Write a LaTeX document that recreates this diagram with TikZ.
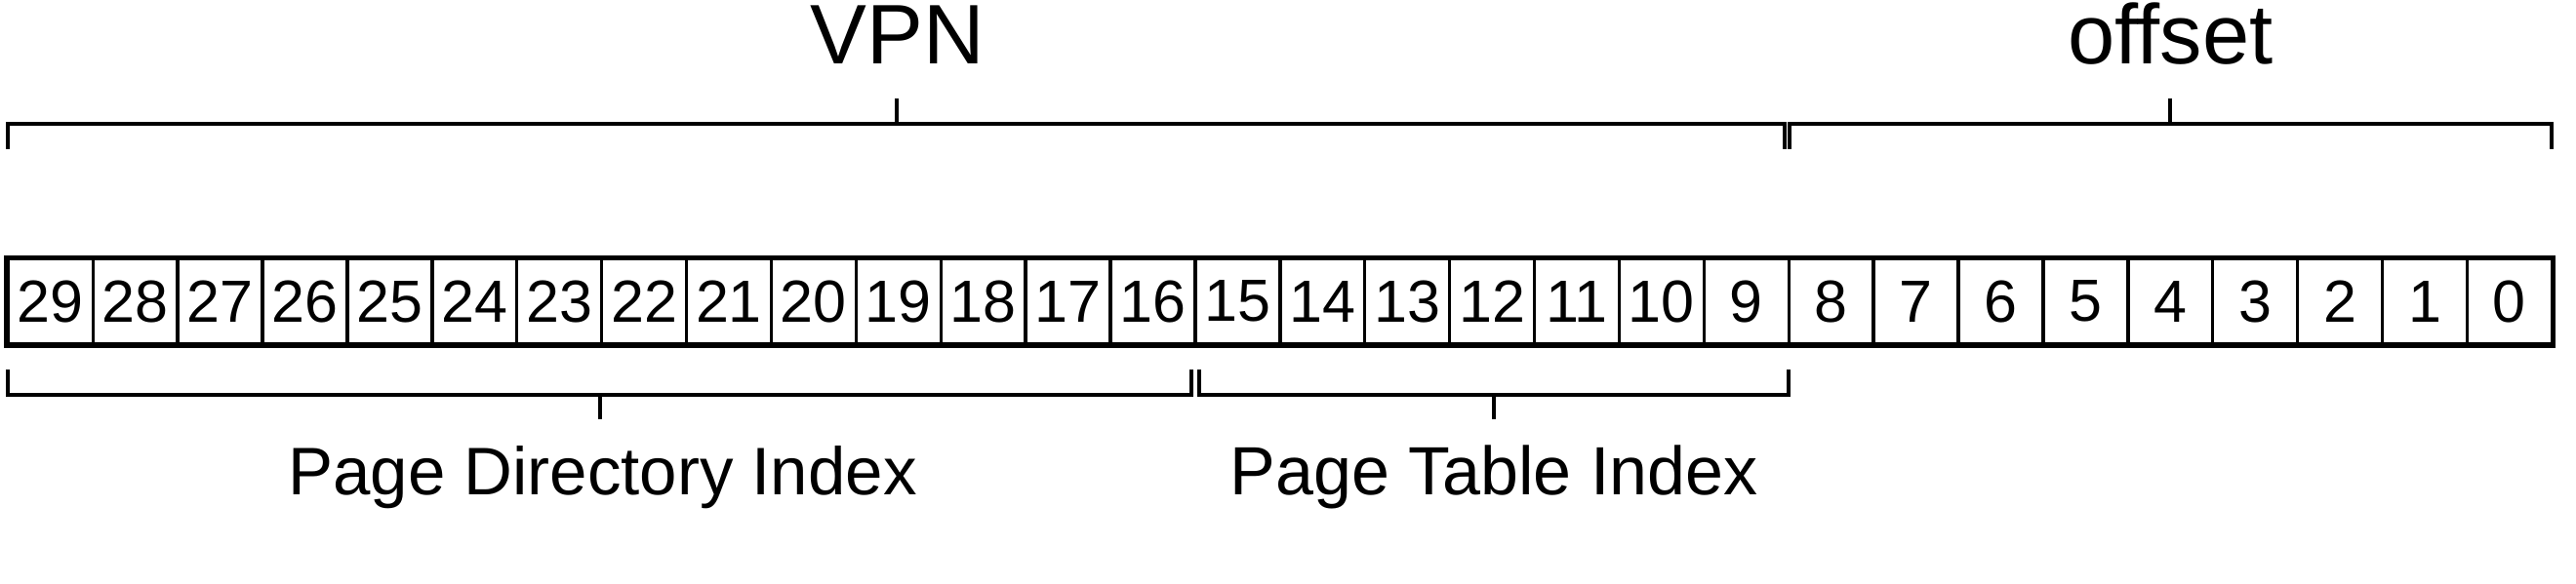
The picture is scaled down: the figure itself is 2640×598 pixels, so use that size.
\documentclass[tikz,border=0pt]{standalone}
\usepackage{fontspec}
\setmainfont{Liberation Sans}
\usetikzlibrary{calc}
\begin{document}
\begin{tikzpicture}[x=1pt,y=-1pt,
  cell/.style={draw, line width=3.4pt, minimum width=86.9pt, minimum height=87.5pt,
               inner sep=0pt, font=\fontsize{61}{61}\selectfont},
  brk/.style={line width=4pt},
  title/.style={inner sep=0pt, anchor=base, font=\fontsize{86.7}{87}\selectfont},
  lbl/.style={inner sep=0pt, anchor=base, font=\fontsize{70}{71}\selectfont}]
\useasboundingbox (0,0) rectangle (2640,598);
% bit cells
\foreach \k in {0,...,29} {
  \pgfmathtruncatemacro{\b}{29-\k}
  \node[cell] (c\b) at ({8.3+(\k+0.5)*86.9},309.25) {\b};
}
\draw[line width=4.4pt] (c29.north west) rectangle (c0.south east);
% top brackets
\coordinate (vpnL) at (8.3,126.5);
\coordinate (vpnR) at (1829,126.5);
\coordinate (offL) at (1833.5,126.5);
\coordinate (offR) at (2615,126.5);
\draw[brk] ($(vpnL)+(0,26)$) -- (vpnL) -- (vpnR) -- ($(vpnR)+(0,26)$);
\draw[brk] ($(offL)+(0,26)$) -- (offL) -- (offR) -- ($(offR)+(0,26)$);
\coordinate (vpnM) at ($(vpnL)!0.5!(vpnR)$);
\coordinate (offM) at ($(offL)!0.5!(offR)$);
\draw[brk] (vpnM) -- ++(0,-25.8);
\draw[brk] (offM) -- ++(0,-25.8);
\node[title] (vpn) at ($(vpnM)+(1,-61.5)$) {VPN};
\node[title] (off) at ($(offM)+(0,-61.5)$) {offset};
% bottom brackets
\coordinate (pdiL) at (8.3,404.7);
\coordinate (pdiR) at (1220.7,404.7);
\coordinate (ptL) at (1229,404.7);
\coordinate (ptR) at (1833,404.7);
\draw[brk] ($(pdiL)+(0,-25.7)$) -- (pdiL) -- (pdiR) -- ($(pdiR)+(0,-25.7)$);
\draw[brk] ($(ptL)+(0,-25.7)$) -- (ptL) -- (ptR) -- ($(ptR)+(0,-25.7)$);
\coordinate (pdiM) at ($(pdiL)!0.5!(pdiR)$);
\coordinate (ptM) at ($(ptL)!0.5!(ptR)$);
\draw[brk] (pdiM) -- ++(0,25.5);
\draw[brk] (ptM) -- ++(0,25.5);
\node[lbl, font=\fontsize{69}{70}\selectfont] (pdi) at ($(pdiM)+(3,102.6)$) {Page Directory Index};
\node[lbl] (pti) at ($(ptM)+(0,102.6)$) {Page Table Index};
\end{tikzpicture}
\end{document}
